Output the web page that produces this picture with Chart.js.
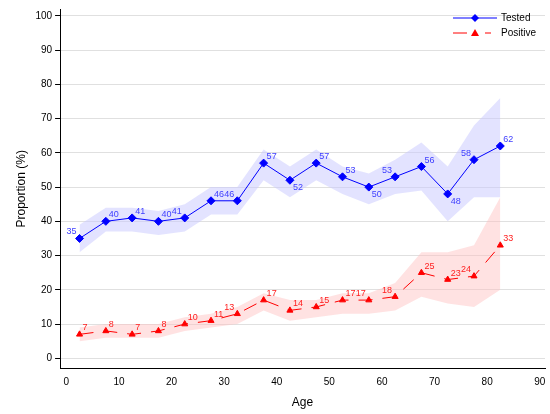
<!DOCTYPE html><html><head><script src="https://cdn.jsdelivr.net/npm/chart.js@4"></script>
<style>body{margin:0;background:#fff}#w{width:550px;height:414px}</style></head><body><div id="w"><canvas id="c"></canvas></div>
<script>
const ages=[2.5,7.5,12.5,17.5,22.5,27.5,32.5,37.5,42.5,47.5,52.5,57.5,62.5,67.5,72.5,77.5,82.5];
const tested=[35,40,41,40,41,46,46,57,52,57,53,50,53,56,48,58,62];
const testedHi=[39,44,44,43,45,50,50,61,56,61,56,54,58,63,56,68,76];
const testedLo=[31,37,37,36,37,42,42,52,47,52,48,45,48,49,40,47,47];
const positive=[7,8,7,8,10,11,13,17,14,15,17,17,18,25,23,24,33];
const positiveHi=[9,10,10,10,12,13,15,19,17,17,19,19,22,31,31,33,47];
const positiveLo=[5,6,6,6,8,9,10,14,11,12,13,13,14,18,16,15,20];
const xTicks=[0,10,20,30,40,50,60,70,80,90];
const yTicks=[0,10,20,30,40,50,60,70,80,90,100];
const tPos=['l','r','r','r','l','r','l','r','b','r','r','b','l','r','b','l','r'];
const pPos=['r','r','r','r','r','r','l','r','r','r','r','l','l','r','r','l','r'];
const pts=(ys)=>ys.map((y,i)=>({x:ages[i],y}));
const labels={id:'labels',afterDatasetsDraw(ch){const c=ch.ctx;c.save();c.font='9px Arial';
[[0,tested,tPos,'#4040ff'],[3,positive,pPos,'#ff2020']].forEach(([di,vals,pos,col])=>{
ch.getDatasetMeta(di).data.forEach((p,i)=>{c.fillStyle=col;let x=p.x,y=p.y;const t=String(vals[i]);
if(pos[i]==='r'){c.textAlign='left';c.textBaseline='bottom';c.fillText(t,x+3,y-2);}
else if(pos[i]==='l'){c.textAlign='right';c.textBaseline='bottom';c.fillText(t,x-3,y-2);}
else{c.textAlign='left';c.textBaseline='top';c.fillText(t,x+3,y+3);}});});
const a=ch.chartArea,x0=a.right-92,y1=a.top+9,y2=a.top+24;
c.lineWidth=1;c.strokeStyle='#0000ff';c.beginPath();c.moveTo(x0,y1);c.lineTo(x0+44,y1);c.stroke();
c.fillStyle='#0000ff';c.beginPath();c.moveTo(x0+22,y1-4);c.lineTo(x0+26,y1);c.lineTo(x0+22,y1+4);c.lineTo(x0+18,y1);c.fill();
c.strokeStyle='#ff0000';c.beginPath();c.moveTo(x0,y2);c.lineTo(x0+14,y2);c.moveTo(x0+32,y2);c.lineTo(x0+38,y2);c.stroke();
c.fillStyle='#ff0000';c.beginPath();c.moveTo(x0+22,y2-4);c.lineTo(x0+26,y2+3);c.lineTo(x0+18,y2+3);c.fill();
c.fillStyle='#000';c.font='10px Arial';c.textAlign='left';c.textBaseline='middle';c.fillText('Tested',x0+48,y1);c.fillText('Positive',x0+48,y2);
c.restore();}};
new Chart(document.getElementById('c'),{type:'line',data:{datasets:[
{label:'Tested',data:pts(tested),borderColor:'#0000ff',backgroundColor:'#0000ff',borderWidth:1,pointStyle:'rectRot',pointRadius:4,order:0},
{label:'thi',data:pts(testedHi),borderWidth:0,pointRadius:0,fill:'+1',backgroundColor:'rgba(200,200,255,0.5)',order:5},
{label:'tlo',data:pts(testedLo),borderWidth:0,pointRadius:0,fill:false,order:5},
{label:'Positive',data:pts(positive),borderColor:'#ff0000',backgroundColor:'#ff0000',borderWidth:1,borderDash:[14,10],pointStyle:'triangle',pointRadius:3.5,order:0},
{label:'phi',data:pts(positiveHi),borderWidth:0,pointRadius:0,fill:'+1',backgroundColor:'rgba(255,190,190,0.45)',order:5},
{label:'plo',data:pts(positiveLo),borderWidth:0,pointRadius:0,fill:false,order:5}]},
options:{responsive:true,maintainAspectRatio:false,animation:false,layout:{padding:{top:8,right:0,left:10,bottom:0}},
plugins:{legend:{display:false},tooltip:{enabled:false}},
scales:{x:{type:'linear',min:-1.2,max:91,afterBuildTicks:a=>{a.ticks=xTicks.map(v=>({value:v}))},grid:{display:false,drawOnChartArea:false,drawTicks:true,tickColor:'#000',tickLength:5},border:{color:'#000'},ticks:{color:'#000',font:{size:10,family:'Arial'}},title:{display:true,text:'Age',color:'#000',font:{size:12,family:'Arial'}}},
y:{min:-3,max:102,afterBuildTicks:a=>{a.ticks=yTicks.map(v=>({value:v}))},grid:{color:'#e0e0e0',drawTicks:true,tickColor:'#000',tickLength:5},border:{color:'#000'},ticks:{color:'#000',font:{size:10,family:'Arial'}},title:{display:true,text:'Proportion (%)',color:'#000',font:{size:12,family:'Arial'}}}}},
plugins:[labels]});
</script></body></html>
